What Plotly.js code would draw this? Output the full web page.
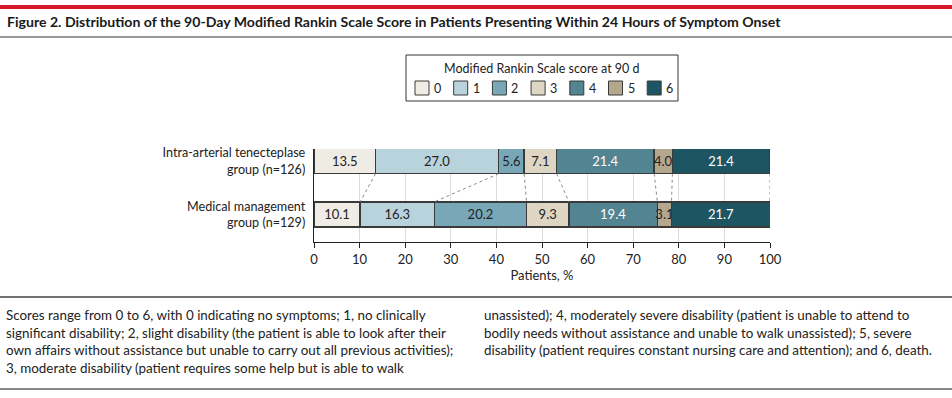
<!DOCTYPE html>
<html><head><meta charset="utf-8">
<script src="https://cdn.plot.ly/plotly-3.0.1.min.js"></script>
<style>html,body{margin:0;padding:0;background:#fff}#chart{width:952px;height:398px}</style>
</head><body><div id="chart"></div>
<script>
const groups = ["Medical management<br>group (n=129)", "Intra-arterial tenecteplase<br>group (n=126)"];
const scores = ["0","1","2","3","4","5","6"];
const tenecteplase = [13.5, 27.0, 5.6, 7.1, 21.4, 4.0, 21.4];
const medical = [10.1, 16.3, 20.2, 9.3, 19.4, 3.1, 21.7];
const colors = ["#EEECE4","#B9D3DC","#78A8B8","#DED6C2","#538491","#B5A78E","#1D5562"];
const textColors = ["#222","#222","#222","#222","#fff","#222","#fff"];
const xTicks = [0,10,20,30,40,50,60,70,80,90,100];
const legendTitle = "Modified Rankin Scale score at 90 d";
const figTitle = "Figure 2. Distribution of the 90-Day Modified Rankin Scale Score in Patients Presenting Within 24 Hours of Symptom Onset";
const noteLeft = [
  "Scores range from 0 to 6, with 0 indicating no symptoms; 1, no clinically",
  "significant disability; 2, slight disability (the patient is able to look after their",
  "own affairs without assistance but unable to carry out all previous activities);",
  "3, moderate disability (patient requires some help but is able to walk"];
const noteRight = [
  "unassisted); 4, moderately severe disability (patient is unable to attend to",
  "bodily needs without assistance and unable to walk unassisted); 5, severe",
  "disability (patient requires constant nursing care and attention); and 6, death."];

const W=952,H=398, L=314, R=770, T=149, B=242;
const px = x => (x-L)/(R-L);
const py = y => (B-y)/(B-T);
const font = "Lato, 'Open Sans', sans-serif";
const bw = 0.47;

const traces = [];
scores.forEach((s,i)=>{
  traces.push({
    type:'bar', orientation:'h', name:s,
    y:[0,1], x:[medical[i], tenecteplase[i]],
    width:bw,
    marker:{color:colors[i], line:{color:'#3a3a3a', width:1.5}},
    text:[medical[i].toFixed(1), tenecteplase[i].toFixed(1)],
    textposition:'inside', insidetextanchor:'middle', constraintext:'none', textangle:0,
    textfont:{family:font, size:13, color:textColors[i]},
    hoverinfo:'skip', showlegend:false
  });
});
let ct=0, cm=0;
for(let i=0;i<scores.length;i++){
  ct+=tenecteplase[i]; cm+=medical[i];
  traces.push({type:'scatter', mode:'lines', x:[ct, Math.min(cm,100)], y:[1-bw/2, bw/2],
    line:{color:'#8a8a8a', width:1, dash:'dot'}, showlegend:false, hoverinfo:'skip'});
}

const shapes = [
  {type:'line', xref:'paper', yref:'paper', x0:px(0), x1:px(W), y0:py(7), y1:py(7), line:{color:'#d7182a', width:4}},
  {type:'line', xref:'paper', yref:'paper', x0:px(0), x1:px(W), y0:py(37), y1:py(37), line:{color:'#333', width:1.2}},
  {type:'line', xref:'paper', yref:'paper', x0:px(0), x1:px(W), y0:py(297), y1:py(297), line:{color:'#444', width:1.5}},
  {type:'line', xref:'paper', yref:'paper', x0:px(0), x1:px(W), y0:py(389), y1:py(389), line:{color:'#888', width:2}},
  {type:'rect', xref:'paper', yref:'paper', x0:px(406), x1:px(678), y0:py(55), y1:py(101), line:{color:'#333', width:1}, fillcolor:'rgba(0,0,0,0)'}
];
const annotations = [
  {xref:'paper', yref:'paper', x:px(5), y:py(22), xanchor:'left', yanchor:'middle', showarrow:false,
   text:'<b>'+figTitle+'</b>', font:{size:14.1, color:'#1a1a1a'}},
  {xref:'paper', yref:'paper', x:px(542), y:py(68), xanchor:'center', yanchor:'middle', showarrow:false,
   text:legendTitle, font:{size:12.5, color:'#222'}}
];
scores.forEach((s,i)=>{
  const x0 = 415 + i*38.7;
  shapes.push({type:'rect', xref:'paper', yref:'paper', x0:px(x0), x1:px(x0+14), y0:py(81), y1:py(95),
    fillcolor:colors[i], line:{color:'#3a3a3a', width:1}});
  annotations.push({xref:'paper', yref:'paper', x:px(x0+17), y:py(88), xanchor:'left', yanchor:'middle',
    showarrow:false, text:s, font:{size:12.5, color:'#222'}});
});
noteLeft.forEach((t,i)=>annotations.push({xref:'paper', yref:'paper', x:px(4), y:py(315+i*17.7), xanchor:'left', yanchor:'middle',
  showarrow:false, text:t, font:{size:13.4, color:'#222'}}));
noteRight.forEach((t,i)=>annotations.push({xref:'paper', yref:'paper', x:px(482), y:py(315+i*17.7), xanchor:'left', yanchor:'middle',
  showarrow:false, text:t, font:{size:13.4, color:'#222'}}));

const layout = {
  width:W, height:H, margin:{l:L, r:W-R, t:T, b:H-B},
  paper_bgcolor:'#fff', plot_bgcolor:'#fff',
  font:{family:font, size:12.5, color:'#222'},
  barmode:'stack', bargap:0, showlegend:false,
  xaxis:{range:[0,100], tickvals:xTicks, showgrid:true, gridcolor:'#dcdcdc', gridwidth:1,
    showline:true, linecolor:'#222', linewidth:1.2, ticks:'outside', ticklen:5, tickcolor:'#222',
    zeroline:false, tickfont:{size:13}, title:{text:'Patients, %', font:{size:13}, standoff:5}, fixedrange:true},
  yaxis:{range:[-0.52,1.23], tickvals:[0,1], ticktext:groups, showgrid:false, zeroline:false,
    showline:true, linecolor:'#222', linewidth:1.2, ticks:'', ticklabelstandoff:5, tickfont:{size:12.6}, fixedrange:true},
  shapes, annotations
};
Plotly.newPlot('chart', traces, layout, {staticPlot:true, displayModeBar:false});
</script></body></html>
